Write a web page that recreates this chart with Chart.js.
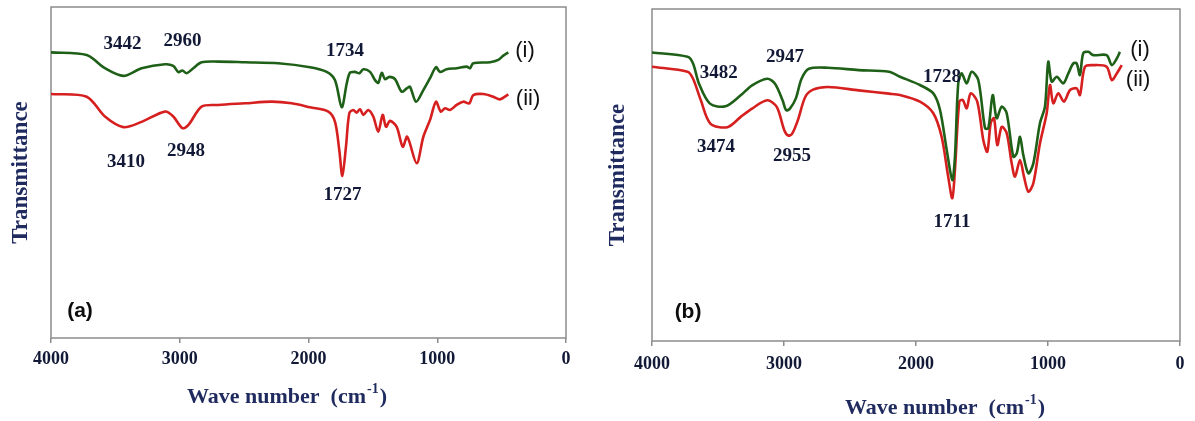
<!DOCTYPE html>
<html>
<head>
<meta charset="utf-8">
<script src="https://cdn.jsdelivr.net/npm/chart.js@4.4.1/dist/chart.umd.min.js"></script>
<style>
  html, body { margin: 0; padding: 0; background: #ffffff; }
  body { width: 1195px; height: 421px; position: relative; overflow: hidden; }
  #wrapA { position: absolute; left: 0; top: 0; width: 597px; height: 421px; }
  #wrapB { position: absolute; left: 597px; top: 0; width: 598px; height: 421px; }
</style>
</head>
<body>
<div id="wrapA"><canvas id="chartA" width="597" height="421"></canvas></div>
<div id="wrapB"><canvas id="chartB" width="598" height="421"></canvas></div>
<script>
// ---------- DATA (wavenumber in cm-1, transmittance in arbitrary units) ----------
const xTickLabels = ['4000', '3000', '2000', '1000', '0'];
const seriesNames = ['(i)', '(ii)'];

// Panel (a)
const waveAi = [4000,3723,3581,3438,3296,3115,3050,3011,2980,2946,2895,2830,2701,2493,2235,1988,1859,1794,1742,1703,1678,1639,1605,1574,1522,1483,1458,1431,1406,1372,1328,1276,1237,1212,1165,1108,1056,1010,979,927,849,771,746,720,590,526,487,448];
const transAi = [86.3,85.5,81.5,79.2,81.5,82.7,82.2,80.3,80.8,80.0,81.5,83.3,83.5,83.3,83.0,81.8,80.4,77.9,69.7,76.9,80.1,80.4,80.0,81.2,80.4,77.9,77.1,80.1,78.2,78.9,78.2,74.4,75.4,75.9,71.4,74.9,78.5,81.8,80.4,81.2,81.5,82.0,81.5,83.0,83.3,84.0,85.3,86.3];
const waveAii = [4000,3723,3581,3438,3296,3115,3050,2980,2934,2830,2701,2493,2286,2130,1988,1846,1794,1761,1737,1709,1683,1652,1626,1600,1574,1536,1497,1458,1424,1398,1367,1315,1268,1233,1160,1108,1056,1010,973,940,901,849,798,751,720,642,565,513,448];
const transAii = [73.7,72.9,66.9,63.7,65.3,68.4,66.9,63.4,64.3,69.9,70.4,70.9,71.4,70.9,69.7,68.4,65.3,56.8,49.0,57.8,67.9,68.9,68.1,69.1,67.4,68.9,66.9,62.3,67.4,63.8,65.6,63.8,57.8,60.8,52.8,60.8,65.9,71.4,68.4,69.4,68.9,70.4,71.4,70.9,73.4,73.7,72.9,72.1,73.6];

// Panel (b)
const waveBi = [4000,3731,3689,3644,3561,3443,3328,3242,3127,3068,3011,2983,2955,2911,2867,2811,2667,2435,2205,2121,1970,1869,1818,1767,1725,1705,1680,1654,1616,1578,1528,1477,1452,1419,1389,1351,1313,1263,1237,1212,1187,1149,1111,1061,1023,998,972,934,884,846,808,783,758,733,695,657,556,517,479,455];
const transBi = [86.9,85.6,83.6,77.5,71.5,70.7,74.0,77.0,79.0,77.5,72.5,69.5,70.0,73.0,79.0,82.0,82.3,81.6,81.1,79.6,77.1,74.6,69.6,57.5,48.5,55.5,77.6,80.6,77.6,81.1,78.6,64.1,64.1,74.1,67.1,70.6,68.6,55.5,56.5,61.5,56.0,50.5,53.5,65.6,70.6,84.1,78.1,79.6,77.6,80.6,83.6,83.6,80.1,86.7,87.1,86.1,86.1,83.1,85.1,87.1];
const waveBii = [4000,3731,3689,3630,3558,3429,3328,3242,3127,3055,2997,2968,2939,2896,2839,2780,2667,2435,2205,2121,1970,1869,1806,1756,1725,1705,1672,1646,1616,1586,1536,1490,1460,1434,1409,1384,1351,1313,1275,1250,1212,1182,1149,1111,1061,1010,985,960,922,879,833,783,758,720,657,556,517,479,441];
const transBii = [82.6,81.1,79.0,72.5,65.5,64.4,67.5,70.0,72.5,70.5,63.4,61.9,62.4,66.4,73.5,75.7,76.5,75.5,74.5,74.1,72.1,68.6,61.5,49.5,43.0,51.5,72.1,72.6,70.1,74.6,72.1,60.5,57.0,65.6,67.1,59.0,64.5,62.6,53.5,49.5,54.5,49.5,45.0,47.5,59.5,68.6,77.1,71.6,74.6,72.1,75.6,76.1,74.1,82.6,83.1,82.6,78.6,80.6,83.1];

// Peak labels (text, anchor wavenumber, anchor transmittance)
const peakTextsA = ['3442', '2960', '1734', '3410', '2948', '1727'];
const peakWaveA  = [3445, 2979, 1717, 3417, 2951, 1736];
const peakTransA = [88.8, 89.7, 86.7, 53.2, 56.6, 43.2];
const peakTextsB = ['3482', '2947', '1728', '3474', '2955', '1711'];
const peakWaveB  = [3495, 2992, 1803, 3515, 2939, 1727];
const peakTransB = [80.6, 85.5, 79.4, 58.4, 55.6, 35.8];

// ---------- STYLE ----------
const GREEN = '#1f6018';
const RED = '#d61f1f';
const NUM_COLOR = '#121936';
const TITLE_COLOR = '#1f2a5e';
const SERIF = '"Liberation Serif", "Times New Roman", serif';
const SANS = '"Liberation Sans", Arial, sans-serif';

function pts(xs, ys) { return xs.map((x, i) => ({ x: x, y: ys[i] })); }

function makeOverlay(cfg) {
  return {
    id: 'overlay',
    beforeDatasetsDraw(chart) {
      const a = chart.chartArea, ctx = chart.ctx;
      ctx.save();
      ctx.strokeStyle = '#8c8c8c';
      ctx.lineWidth = 1.5;
      ctx.strokeRect(a.left, a.top, a.right - a.left, a.bottom - a.top);
      ctx.restore();
    },
    afterDatasetsDraw(chart) {
      const ctx = chart.ctx, xs = chart.scales.x, ys = chart.scales.y;
      ctx.save();
      ctx.textAlign = 'center';
      ctx.textBaseline = 'middle';
      // peak labels
      ctx.font = 'bold 19px ' + SERIF;
      ctx.fillStyle = NUM_COLOR;
      cfg.peakTexts.forEach((t, i) => {
        ctx.fillText(t, xs.getPixelForValue(cfg.peakWave[i]), ys.getPixelForValue(cfg.peakTrans[i]));
      });
      // series tags
      ctx.font = '22px ' + SANS;
      ctx.fillStyle = '#111111';
      cfg.tags.forEach(tg => {
        ctx.fillText(tg.text, xs.getPixelForValue(tg.x), ys.getPixelForValue(tg.y));
      });
      // panel letter
      ctx.font = 'bold 21px ' + SANS;
      ctx.fillStyle = '#0d0d0d';
      ctx.fillText(cfg.panel.text, xs.getPixelForValue(cfg.panel.x), ys.getPixelForValue(cfg.panel.y));
      // x-axis title with superscript
      const main1 = 'Wave number  (cm', sup = '-1', main2 = ')';
      const fMain = 'bold 22px ' + SERIF, fSup = 'bold 14px ' + SERIF;
      ctx.font = fMain; const w1 = ctx.measureText(main1).width, w3 = ctx.measureText(main2).width;
      ctx.font = fSup; const w2 = ctx.measureText(sup).width;
      const total = w1 + w2 + w3;
      const cx = xs.getPixelForValue(cfg.xTitle.x);
      const cy = chart.chartArea.bottom + cfg.xTitle.dy;
      let x0 = cx - total / 2;
      ctx.textAlign = 'left';
      ctx.fillStyle = TITLE_COLOR;
      ctx.font = fMain; ctx.fillText(main1, x0, cy);
      ctx.font = fSup; ctx.fillText(sup, x0 + w1 + 1, cy - 8);
      ctx.font = fMain; ctx.fillText(main2, x0 + w1 + w2 + 2, cy);
      ctx.restore();
    }
  };
}

function makeChart(id, waveI, transI, waveII, transII, layout, cfg) {
  return new Chart(document.getElementById(id), {
    type: 'line',
    data: {
      datasets: [
        { label: seriesNames[0], data: pts(waveI, transI), borderColor: GREEN, borderWidth: 2.6, pointRadius: 0, tension: 0.3, fill: false },
        { label: seriesNames[1], data: pts(waveII, transII), borderColor: RED, borderWidth: 2.6, pointRadius: 0, tension: 0.3, fill: false }
      ]
    },
    options: {
      responsive: false,
      animation: false,
      devicePixelRatio: 1,
      layout: { padding: { left: 0, right: layout.padRight, top: layout.padTop, bottom: 0 } },
      plugins: { legend: { display: false }, tooltip: { enabled: false } },
      scales: {
        x: {
          type: 'linear',
          reverse: true,
          min: 0, max: 4000,
          border: { display: false },
          grid: { display: true, drawOnChartArea: false, drawTicks: true, tickLength: 5, color: '#8c8c8c', lineWidth: 1.5 },
          ticks: {
            stepSize: 1000,
            padding: layout.tickPad,
            color: NUM_COLOR,
            font: { family: SERIF, size: 18, weight: 'bold' },
            maxRotation: 0,
            callback: (v) => xTickLabels[xTickLabels.length - 1 - Math.round(v / 1000)]
          },
          title: { display: false },
          afterFit: (s) => { s.height = layout.xAxisHeight; }
        },
        y: {
          type: 'linear',
          min: 0, max: 100,
          border: { display: false },
          grid: { display: false },
          ticks: { display: false },
          title: {
            display: true,
            text: 'Transmittance',
            color: TITLE_COLOR,
            font: { family: SERIF, size: 23, weight: 'bold' },
            padding: { top: layout.yTitlePad, bottom: 0 }
          },
          afterFit: (s) => { s.width = layout.yAxisWidth; }
        }
      }
    },
    plugins: [makeOverlay(cfg)]
  });
}

makeChart('chartA', waveAi, transAi, waveAii, transAii,
  { padRight: 31, padTop: 7, xAxisHeight: 83, yAxisWidth: 51, yTitlePad: 7, tickPad: 6 },
  {
    peakTexts: peakTextsA, peakWave: peakWaveA, peakTrans: peakTransA,
    tags: [{ text: seriesNames[0], x: 318, y: 86.6 }, { text: seriesNames[1], x: 295, y: 72.1 }],
    panel: { text: '(a)', x: 3775, y: 8.0 },
    xTitle: { x: 2175, dy: 59 }
  });

makeChart('chartB', waveBi, transBi, waveBii, transBii,
  { padRight: 15, padTop: 9, xAxisHeight: 80, yAxisWidth: 55, yTitlePad: 7, tickPad: 8 },
  {
    peakTexts: peakTextsB, peakWave: peakWaveB, peakTrans: peakTransB,
    tags: [{ text: seriesNames[0], x: 303, y: 87.6 }, { text: seriesNames[1], x: 318, y: 78.6 }],
    panel: { text: '(b)', x: 3727, y: 8.8 },
    xTitle: { x: 1788, dy: 67 }
  });
</script>
</body>
</html>
